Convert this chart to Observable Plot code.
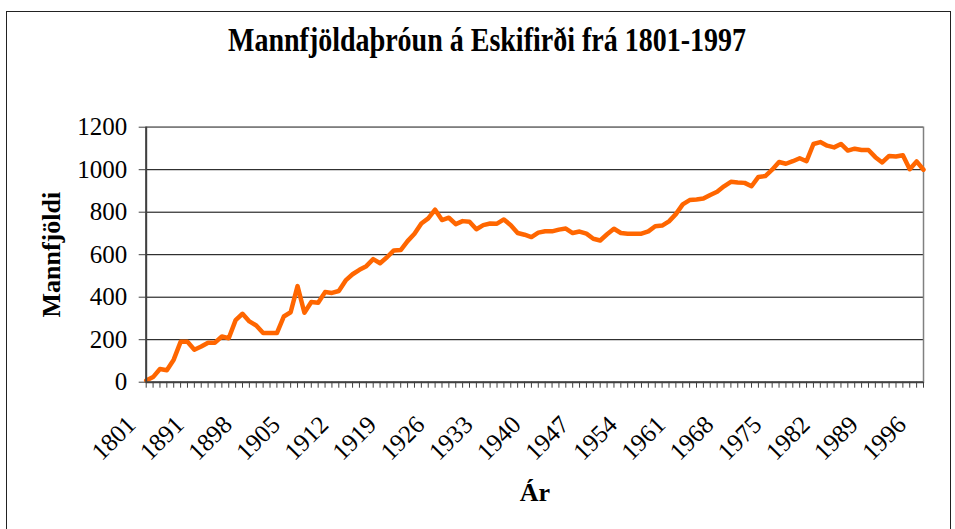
<!DOCTYPE html>
<html>
<head>
<meta charset="utf-8">
<script src="https://cdn.jsdelivr.net/npm/d3@7"></script>
<script src="https://cdn.jsdelivr.net/npm/@observablehq/plot@0.6"></script>
<style>
  body { margin: 0; background: #fff; }
  #chart { position: relative; width: 955px; height: 529px; overflow: hidden; background: #fff; font-family: "Liberation Serif", "Times New Roman", serif; }
  #border { position: absolute; left: 6px; top: 11px; width: 943px; height: 600px; border: 1.5px solid #222; }
  #titlebox { position: relative; height: 80px; }
  #title { position: absolute; left: 487px; top: 28px; transform: translateX(-50%) scaleY(1.18); transform-origin: 50% 80%; white-space: nowrap; font-size: 28px; font-weight: bold; line-height: 28px; color: #000; }
  #plot svg { display: block; }
</style>
</head>
<body>
<div id="chart">
  <div id="border"></div>
  <div id="titlebox"><div id="title">Mannfjöldaþróun á Eskifirði frá 1801-1997</div></div>
  <div id="plot"></div>
</div>
<script>
const years = [1801, 1885, 1886, 1887, 1888, 1889, 1890, 1891, 1892, 1893, 1894, 1895, 1896, 1897, 1898, 1899,
  1900, 1901, 1902, 1903, 1904, 1905, 1906, 1907, 1908, 1909, 1910, 1911, 1912, 1913, 1914, 1915, 1916, 1917, 1918, 1919,
  1920, 1921, 1922, 1923, 1924, 1925, 1926, 1927, 1928, 1929, 1930, 1931, 1932, 1933, 1934, 1935, 1936, 1937, 1938, 1939,
  1940, 1941, 1942, 1943, 1944, 1945, 1946, 1947, 1948, 1949, 1950, 1951, 1952, 1953, 1954, 1955, 1956, 1957, 1958, 1959,
  1960, 1961, 1962, 1963, 1964, 1965, 1966, 1967, 1968, 1969, 1970, 1971, 1972, 1973, 1974, 1975, 1976, 1977, 1978, 1979,
  1980, 1981, 1982, 1983, 1984, 1985, 1986, 1987, 1988, 1989, 1990, 1991, 1992, 1993, 1994, 1995, 1996, 1997];

const population = [8, 24, 62, 56, 106, 190, 190, 153, 168, 186, 186, 215, 207, 292, 322, 286,
  267, 231, 231, 231, 309, 329, 452, 327, 377, 374, 424, 420, 429, 479, 508, 529, 546, 579, 560, 588,
  620, 622, 664, 699, 747, 771, 812, 763, 774, 744, 758, 755, 720, 739, 747, 746, 766, 739, 702, 694,
  683, 704, 710, 710, 718, 723, 702, 709, 699, 675, 667, 696, 722, 702, 699, 699, 699, 710, 734, 737,
  757, 791, 837, 857, 860, 864, 881, 896, 922, 943, 940, 938, 922, 966, 970, 1000, 1036, 1028, 1040, 1054,
  1040, 1121, 1130, 1113, 1105, 1121, 1090, 1099, 1093, 1093, 1059, 1034, 1065, 1062, 1068, 1002, 1039, 1000];

const labelYears = [1801, 1891, 1898, 1905, 1912, 1919, 1926, 1933, 1940, 1947, 1954, 1961, 1968, 1975, 1982, 1989, 1996];
const yTicks = [0, 200, 400, 600, 800, 1000, 1200];
const yGrid = [200, 400, 600, 800, 1000, 1200];

const data = years.map((year, i) => ({year, pop: population[i]}));

const chart = Plot.plot({
  width: 955,
  height: 449,
  marginTop: 46.7,
  marginBottom: 147.3,
  marginLeft: 145.7,
  marginRight: 32,
  style: {fontFamily: "'Liberation Serif', 'Times New Roman', serif", fontSize: "25px", color: "#000", background: "transparent", overflow: "visible"},
  x: {type: "point", domain: years, padding: 0},
  y: {domain: [0, 1200]},
  marks: [
    Plot.gridY(yGrid, {stroke: "#000", strokeOpacity: 1, strokeWidth: 1}),
    Plot.frame({stroke: "#808080", strokeWidth: 1.5}),
    Plot.line(data, {x: "year", y: "pop", stroke: "#FF6600", strokeWidth: 4.5, strokeLinejoin: "round"}),
    Plot.ruleY([0], {stroke: "#404040", strokeWidth: 2}),
    Plot.ruleX([years[0]], {stroke: "#404040", strokeWidth: 2}),
    Plot.axisX({ticks: years, tickSize: 6, tickFormat: () => "", stroke: "#404040", label: null}),
    Plot.axisY({ticks: yTicks, tickSize: 7, tickPadding: 12, tickFormat: d => String(d), fontSize: 25, stroke: "#404040", label: null}),
    Plot.text(labelYears, {x: d => d, text: d => String(d), frameAnchor: "bottom", rotate: -45, textAnchor: "end", lineAnchor: "bottom", dx: -9, dy: 44, fontSize: 25, fill: "#000"}),
    Plot.text(["Ár"], {frameAnchor: "bottom", textAnchor: "middle", lineAnchor: "bottom", dy: 119, fontWeight: "bold", fontSize: 26, fill: "#000"}),
    Plot.text(["Mannfjöldi"], {frameAnchor: "left", textAnchor: "middle", rotate: -90, dx: -95, fontWeight: "bold", fontSize: 26, fill: "#000"})
  ]
});
document.getElementById("plot").appendChild(chart);
</script>
</body>
</html>
